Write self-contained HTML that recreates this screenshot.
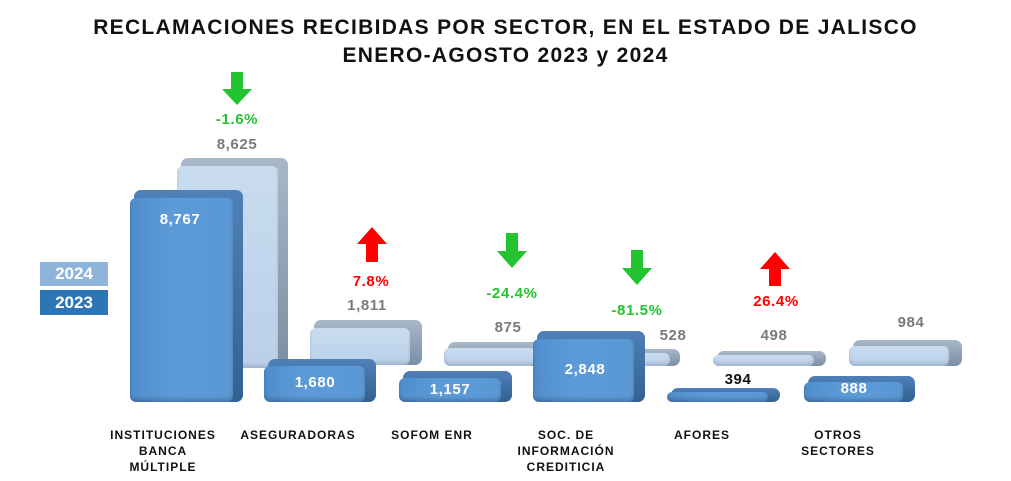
<!DOCTYPE html>
<html><head><meta charset="utf-8"><style>
body{margin:0;width:1011px;height:481px;background:#fff;position:relative;overflow:hidden;font-family:"Liberation Sans",sans-serif;font-weight:bold}
.a{position:absolute}
.t{position:absolute;width:1011px;text-align:center;font-size:21px;color:#111;letter-spacing:1.3px}
.bk{position:absolute;border-radius:7px}
.d .bk{background:linear-gradient(#4f80b8,#33618f)}
.l .bk{background:linear-gradient(#a8b8c8,#7c8ea2)}
.fr{position:absolute;border-radius:6px}
.d .fr{background:linear-gradient(90deg,#4f8ccb,#5c9bd8 40%,#5a98d4);box-shadow:inset 0 -3px 3px rgba(0,0,0,.2)}
.l .fr{background:linear-gradient(#c9dcef,#b9d0ea);box-shadow:inset 0 -3px 3px rgba(0,0,0,.12)}
.v{position:absolute;font-size:15px;text-align:center;width:80px;letter-spacing:0.6px}
.w{color:#fff}.g{color:#7a7a7a}.gr{color:#22c431}.rd{color:#f00}
.c{position:absolute;font-size:12px;text-align:center;width:140px;color:#111;line-height:16px;letter-spacing:1px}
</style></head><body>
<div class="t" style="top:16px">RECLAMACIONES RECIBIDAS POR SECTOR, EN EL ESTADO DE JALISCO</div>
<div class="t" style="top:44px">ENERO-AGOSTO 2023 y 2024</div>

<div class="a" style="left:40px;top:262px;width:68px;height:24px;background:#8fb4dc;color:#fff;font-size:17px;text-align:center;line-height:24px">2024</div>
<div class="a" style="left:40px;top:290px;width:68px;height:25px;background:#2e75b6;color:#fff;font-size:17px;text-align:center;line-height:25px">2023</div>

<div class="l">
<div class="bk" style="left:181px;top:158px;width:107px;height:210px"></div>
<div class="fr" style="left:177px;top:166px;width:101px;height:202px"></div>
<div class="bk" style="left:314px;top:320px;width:108px;height:45px"></div>
<div class="fr" style="left:310px;top:328px;width:100px;height:37px"></div>
<div class="bk" style="left:448px;top:342px;width:98px;height:24px"></div>
<div class="fr" style="left:444px;top:348px;width:92px;height:18px"></div>
<div class="bk" style="left:600px;top:349px;width:80px;height:17px"></div>
<div class="fr" style="left:596px;top:353px;width:74px;height:13px"></div>
<div class="bk" style="left:717px;top:351px;width:109px;height:15px"></div>
<div class="fr" style="left:713px;top:355px;width:101px;height:11px"></div>
<div class="bk" style="left:853px;top:340px;width:109px;height:26px"></div>
<div class="fr" style="left:849px;top:346px;width:100px;height:20px"></div>
</div>
<div class="d">
<div class="bk" style="left:134px;top:190px;width:109px;height:212px"></div>
<div class="fr" style="left:130px;top:198px;width:103px;height:204px"></div>
<div class="bk" style="left:268px;top:359px;width:108px;height:43px"></div>
<div class="fr" style="left:264px;top:366px;width:101px;height:36px"></div>
<div class="bk" style="left:403px;top:371px;width:109px;height:31px"></div>
<div class="fr" style="left:399px;top:378px;width:102px;height:24px"></div>
<div class="bk" style="left:537px;top:331px;width:108px;height:71px"></div>
<div class="fr" style="left:533px;top:339px;width:101px;height:63px"></div>
<div class="bk" style="left:671px;top:388px;width:109px;height:14px"></div>
<div class="fr" style="left:667px;top:392px;width:101px;height:10px"></div>
<div class="bk" style="left:808px;top:376px;width:107px;height:26px"></div>
<div class="fr" style="left:804px;top:382px;width:99px;height:20px"></div>
</div>

<div class="v w" style="left:140px;top:211px">8,767</div>
<div class="v w" style="left:275px;top:374px">1,680</div>
<div class="v w" style="left:410px;top:381px">1,157</div>
<div class="v w" style="left:545px;top:361px">2,848</div>
<div class="v" style="left:698px;top:371px;color:#111">394</div>
<div class="v w" style="left:814px;top:380px">888</div>

<div class="v g" style="left:197px;top:136px">8,625</div>
<div class="v g" style="left:327px;top:297px">1,811</div>
<div class="v g" style="left:468px;top:319px">875</div>
<div class="v g" style="left:633px;top:327px">528</div>
<div class="v g" style="left:734px;top:327px">498</div>
<div class="v g" style="left:871px;top:314px">984</div>

<div class="v gr" style="left:197px;top:111px">-1.6%</div>
<div class="v rd" style="left:331px;top:273px">7.8%</div>
<div class="v gr" style="left:472px;top:285px">-24.4%</div>
<div class="v gr" style="left:597px;top:302px">-81.5%</div>
<div class="v rd" style="left:736px;top:293px">26.4%</div>

<svg class="a" style="left:0;top:0" width="1011" height="481">
<polygon fill="#22c431" points="231,72 243,72 243,89 252,89 237,105 222,89 231,89"/>
<polygon fill="#f00" points="366,262 378,262 378,244 387,244 372,227 357,244 366,244"/>
<polygon fill="#22c431" points="506,233 518,233 518,251 527,251 512,268 497,251 506,251"/>
<polygon fill="#22c431" points="631,250 643,250 643,268 652,268 637,285 622,268 631,268"/>
<polygon fill="#f00" points="769,286 781,286 781,269 790,269 775,252 760,269 769,269"/>
</svg>

<div class="c" style="left:93px;top:427px">INSTITUCIONES<br>BANCA<br>MÚLTIPLE</div>
<div class="c" style="left:228px;top:427px">ASEGURADORAS</div>
<div class="c" style="left:362px;top:427px">SOFOM ENR</div>
<div class="c" style="left:496px;top:427px">SOC. DE<br>INFORMACIÓN<br>CREDITICIA</div>
<div class="c" style="left:632px;top:427px">AFORES</div>
<div class="c" style="left:768px;top:427px">OTROS<br>SECTORES</div>
</body></html>
